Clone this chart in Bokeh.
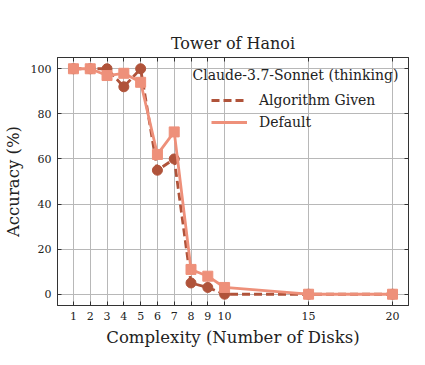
from bokeh.plotting import figure
from bokeh.models import LinearAxis, FixedTicker, Range1d, Legend, LegendItem, Label
from bokeh.embed import file_html
from bokeh.resources import INLINE

disks = [1, 2, 3, 4, 5, 6, 7, 8, 9, 10, 15, 20]
algorithm_given = [100, 100, 100, 92, 100, 55, 60, 5, 3, 0, 0, 0]
default = [100, 100, 97, 98, 94, 62, 72, 11, 8, 3, 0, 0]
y_ticks = [0, 20, 40, 60, 80, 100]

DARK = "#B0533A"
LIGHT = "#EE907A"
FONT = "DejaVu Serif"

p = figure(width=417, height=349, output_backend="svg", toolbar_location=None,
           x_range=Range1d(0.05, 20.95), y_range=Range1d(-5, 105),
           min_border_left=49, min_border_right=9, min_border_top=57, min_border_bottom=44)

p.title.text = "Tower of Hanoi"
p.title.align = "center"
p.title.text_font = FONT
p.title.text_font_size = "16px"
p.title.text_font_style = "normal"
p.title.text_color = "#222222"
p.title.offset = 0

p.outline_line_color = "#333333"
p.outline_line_width = 1

for ax in [p.xaxis[0], p.yaxis[0]]:
    ax.major_label_text_font = FONT
    ax.major_label_text_font_size = "11px"
    ax.major_label_text_color = "#222222"
    ax.axis_label_text_font = FONT
    ax.axis_label_text_font_size = "16.5px"
    ax.axis_label_text_font_style = "normal"
    ax.axis_label_text_color = "#222222"
    ax.major_tick_in = 4
    ax.major_tick_out = 0
    ax.minor_tick_in = 0
    ax.minor_tick_out = 0
    ax.axis_line_color = "#333333"
    ax.major_tick_line_color = "#333333"

p.xaxis[0].ticker = FixedTicker(ticks=disks)
p.yaxis[0].ticker = FixedTicker(ticks=y_ticks)
p.xaxis[0].axis_label = "Complexity (Number of Disks)"
p.yaxis[0].axis_label = "Accuracy (%)"
p.xaxis[0].major_label_standoff = 6
p.yaxis[0].major_label_standoff = 6

top = LinearAxis(ticker=FixedTicker(ticks=disks),
                 major_label_overrides={t: "" for t in disks},
                 major_tick_in=4, major_tick_out=0, minor_tick_in=0, minor_tick_out=0,
                 axis_line_color="#333333", major_tick_line_color="#333333",
                 major_label_standoff=0)
right = LinearAxis(ticker=FixedTicker(ticks=y_ticks),
                   major_label_overrides={t: "" for t in y_ticks},
                   major_tick_in=4, major_tick_out=0, minor_tick_in=0, minor_tick_out=0,
                   axis_line_color="#333333", major_tick_line_color="#333333",
                   major_label_standoff=0)
p.add_layout(top, "above")
p.add_layout(right, "right")

p.xgrid.ticker = FixedTicker(ticks=disks)
p.ygrid.ticker = FixedTicker(ticks=y_ticks)
p.grid.grid_line_color = "#b8b8b8"
p.grid.grid_line_width = 1

l1 = p.line(disks, algorithm_given, line_color=DARK, line_width=2.8, line_dash="8 4")
m1 = p.scatter(disks, algorithm_given, marker="circle", size=10, fill_color=DARK, line_color=DARK)
l2 = p.line(disks, default, line_color=LIGHT, line_width=2.8)
m2 = p.scatter(disks, default, marker="square", size=10, fill_color=LIGHT, line_color=LIGHT)

legend = Legend(items=[LegendItem(label="Algorithm Given", renderers=[l1]),
                       LegendItem(label="Default", renderers=[l2])],
                location=(154, 174), background_fill_alpha=0, border_line_alpha=0,
                label_text_font=FONT, label_text_font_size="14px", label_text_color="#222222",
                glyph_width=36, glyph_height=18, spacing=4, label_standoff=12,
                margin=0, padding=0)
p.add_layout(legend, "center")

p.add_layout(Label(x=135, y=223, x_units="screen", y_units="screen",
                   text="Claude-3.7-Sonnet (thinking)", text_font=FONT,
                   text_font_size="14px", text_color="#222222"))

open("out.html", "w").write(file_html(p, INLINE))
